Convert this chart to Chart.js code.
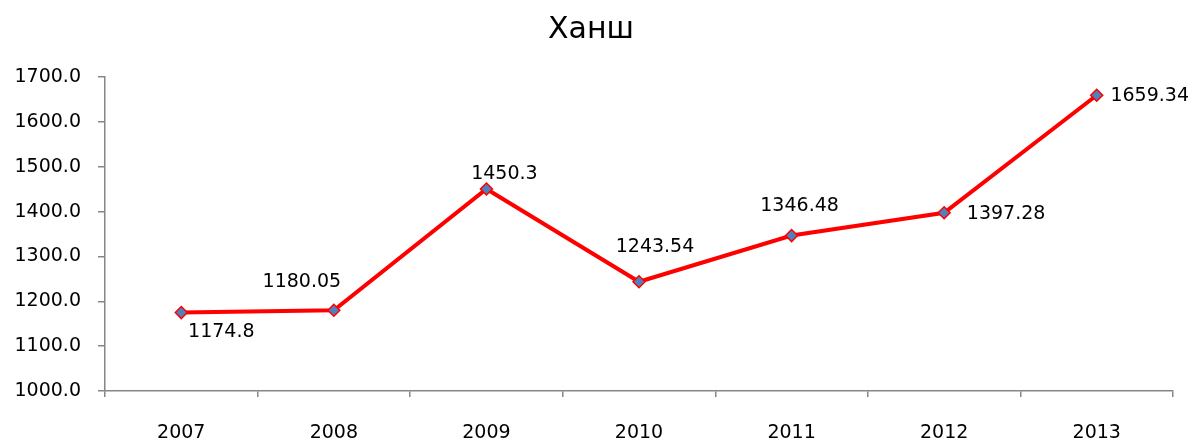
<!DOCTYPE html>
<html>
<head>
<meta charset="utf-8">
<script src="https://cdn.jsdelivr.net/npm/chart.js@4"></script>
<style>
html,body{margin:0;padding:0;background:#fff;}
#wrap{width:1196px;height:441px;}
</style>
</head>
<body>
<div id="wrap"><canvas id="c" width="1196" height="441"></canvas></div>
<script>
const titleText = 'Ханш';
const categories = ['2007','2008','2009','2010','2011','2012','2013'];
const values = [1174.8, 1180.05, 1450.3, 1243.54, 1346.48, 1397.28, 1659.34];
const valueLabels = ['1174.8','1180.05','1450.3','1243.54','1346.48','1397.28','1659.34'];
const yMin = 1000, yMax = 1700, yStep = 100;

const FONT = '"DejaVu Sans", sans-serif';

const titlePlugin = {
  id: 'titleDraw',
  afterDraw(chart, args, opts) {
    const ctx = chart.ctx;
    ctx.save();
    ctx.font = '30px ' + FONT;
    ctx.fillStyle = '#000';
    ctx.textAlign = 'center';
    ctx.textBaseline = 'middle';
    ctx.fillText(titleText, opts.x, opts.y);
    ctx.restore();
  }
};

const labelPlugin = {
  id: 'pointLabels',
  afterDatasetsDraw(chart, args, opts) {
    const ctx = chart.ctx;
    const meta = chart.getDatasetMeta(0);
    ctx.save();
    ctx.font = '19px ' + FONT;
    ctx.fillStyle = '#000';
    ctx.textAlign = 'center';
    ctx.textBaseline = 'middle';
    meta.data.forEach((pt, i) => {
      const o = opts.offsets[i] || [0, -20];
      ctx.fillText(valueLabels[i], pt.x + o[0], pt.y + o[1]);
    });
    ctx.restore();
  }
};

new Chart(document.getElementById('c'), {
  type: 'line',
  data: {
    labels: categories,
    datasets: [{
      data: values,
      borderColor: '#FF0000',
      borderWidth: 4,
      tension: 0,
      pointStyle: 'rectRot',
      pointRadius: 6,
      pointHoverRadius: 6,
      pointBackgroundColor: '#4F81BD',
      pointBorderColor: '#FF0000',
      pointBorderWidth: 1.5,
      fill: false
    }]
  },
  options: {
    responsive: false,
    animation: false,
    events: [],
    layout: { padding: { top: 77, right: 23, left: 0, bottom: 0 } },
    plugins: {
      legend: { display: false },
      title: { display: false },
      tooltip: { enabled: false },
      titleDraw: { x: 591, y: 30 },
      pointLabels: {
        offsets: [[40, 19], [-32, -28], [18, -15], [16, -35], [8, -30], [62, 1], [53, 1]]
      }
    },
    scales: {
      x: {
        offset: true,
        grid: { offset: true, drawOnChartArea: false, tickLength: 6, color: '#868686', lineWidth: 1.5 },
        border: { color: '#868686', width: 1.5 },
        ticks: { color: '#000', font: { family: FONT, size: 19 }, padding: 25, maxRotation: 0 },
        afterFit(s) { s.height = 50; }
      },
      y: {
        min: yMin, max: yMax,
        grid: { drawOnChartArea: false, tickLength: 7, color: '#868686', lineWidth: 1.5 },
        border: { color: '#868686', width: 1.5 },
        ticks: {
          stepSize: yStep,
          color: '#000',
          font: { family: FONT, size: 19 },
          padding: 17,
          callback: v => Number(v).toFixed(1)
        },
        afterFit(s) { s.width = 105; }
      }
    }
  },
  plugins: [titlePlugin, labelPlugin]
});
</script>
</body>
</html>
